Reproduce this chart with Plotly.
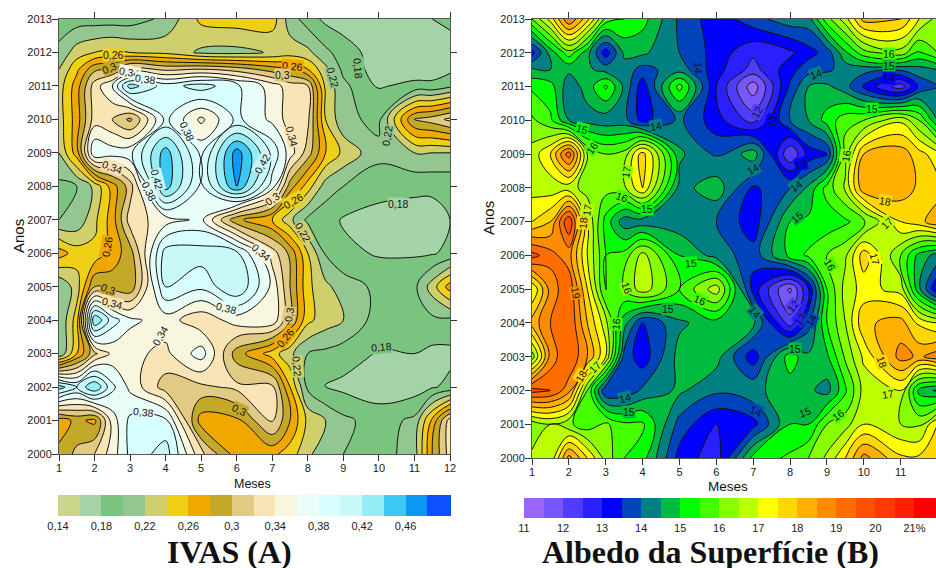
import plotly.graph_objects as go
import numpy as np

ivas_months = [1, 1.5, 2, 2.5, 3, 4, 5, 6, 7, 7.5, 8, 8.5, 9, 10, 11, 11.5, 12]
ivas_years = [2000, 2001, 2002, 2003, 2004, 2005, 2006, 2007, 2008, 2009, 2010, 2011, 2011.5, 2012, 2013]
albedo_months = [1, 1.5, 2, 2.5, 3, 3.5, 4, 5, 6, 7, 8, 8.5, 9, 9.5, 10, 11, 11.5, 12]
albedo_years = ivas_years
month_ticks = list(range(1, 13))
year_ticks = list(range(2000, 2014))

ivas_2000 = [.285, .305, .32, .35, .385, .41, .325, .27, .265, .25, .225, .205, .20, .19, .21, .28, .33]
ivas_2001 = [.27, .285, .275, .35, .385, .385, .27, .275, .325, .28, .235, .22, .205, .19, .205, .265, .33]
ivas_2002 = [.43, .40, .44, .385, .355, .31, .315, .325, .325, .26, .195, .178, .175, .17, .17, .178, .185]
ivas_2003 = [.20, .26, .315, .345, .345, .335, .37, .29, .25, .225, .20, .195, .19, .178, .18, .175, .175]
ivas_2004 = [.20, .25, .44, .39, .365, .35, .325, .35, .355, .30, .245, .23, .22, .19, .19, .195, .195]
ivas_2005 = [.20, .23, .30, .29, .285, .40, .385, .42, .355, .30, .245, .225, .21, .195, .195, .23, .27]
ivas_2006 = [.27, .25, .245, .27, .29, .41, .41, .405, .33, .295, .24, .198, .185, .178, .178, .178, .185]
ivas_2007 = [.20, .205, .235, .27, .33, .35, .365, .285, .26, .225, .195, .188, .178, .17, .17, .17, .18]
ivas_2008 = [.195, .20, .225, .27, .31, .45, .375, .46, .37, .29, .25, .21, .20, .19, .185, .185, .185]
ivas_2009 = [.22, .27, .38, .37, .375, .45, .375, .47, .395, .35, .31, .26, .235, .205, .22, .22, .22]
ivas_2010 = [.23, .27, .33, .32, .295, .385, .335, .385, .355, .33, .325, .24, .205, .195, .30, .31, .325]
ivas_2011 = [.23, .27, .33, .36, .43, .39, .41, .385, .35, .33, .32, .235, .205, .178, .185, .185, .195]
ivas_2011h = [.22, .255, .295, .30, .33, .315, .32, .31, .29, .28, .26, .225, .195, .17, .17, .17, .175]
ivas_2012 = [.205, .23, .24, .245, .24, .235, .216, .214, .222, .23, .225, .205, .19, .17, .17, .17, .17]
ivas_2013 = [.19, .19, .19, .19, .19, .205, .245, .25, .25, .21, .19, .175, .17, .17, .17, .18, .185]

albedo_2000 = [16.6, 16.6, 18.7, 17.5, 16.3, 15.5, 15.2, 13.3, 12.7, 15.2, 15.6, 16, 16.6, 17.5, 18.7, 17.6, 17.6, 17.8]
albedo_2001 = [16.2, 16.5, 16.1, 15.7, 16.1, 15.6, 15.6, 13.8, 13, 13.3, 15, 15, 16, 16.3, 17, 16.5, 16.4, 17.5]
albedo_2002 = [19.7, 19.5, 18.7, 16, 13.5, 13.6, 14.1, 14.6, 14.1, 14.4, 14.7, 14.6, 14.3, 15.4, 16.7, 17, 14.8, 14.4]
albedo_2003 = [16.2, 18.7, 19.5, 18.5, 17, 13.8, 13.2, 14.7, 14.7, 13.2, 15.3, 14.6, 14.9, 16.1, 17.1, 18.7, 18.4, 18.8]
albedo_2004 = [18.2, 19, 19.5, 18, 16.7, 14.7, 13.5, 14.4, 14.8, 14.6, 12.2, 13.8, 15.5, 16.5, 17.9, 18.2, 17.4, 17]
albedo_2005 = [17, 18.7, 19.4, 17.5, 15.4, 16, 16.8, 15.5, 16.8, 13.3, 11.4, 13, 15.5, 16.7, 17.2, 16.8, 14.6, 13]
albedo_2006 = [19.7, 19.2, 18.7, 17, 15.5, 15.7, 16.7, 15, 14.3, 13.7, 15.2, 15.6, 16, 16.4, 17.8, 16, 14.8, 14.3]
albedo_2007 = [17.5, 18, 20, 17, 15.3, 14.2, 14.2, 14.2, 14, 13.2, 15, 15.1, 15.2, 15.4, 15.8, 17.5, 17.8, 18.4]
albedo_2008 = [16.8, 16.7, 16.7, 16.3, 16.2, 16.4, 17.5, 14.3, 14.8, 13.4, 14, 14.6, 15.7, 16.6, 18.4, 18.3, 17.9, 17.7]
albedo_2009 = [16.7, 17.5, 19.3, 16.5, 16, 16.2, 17.8, 14.6, 13.9, 14.8, 12, 13.2, 13.5, 16.3, 18, 18.3, 17.7, 17.2]
albedo_2010 = [16.1, 15.6, 14.5, 14.3, 14.2, 14.2, 13.3, 14.1, 13.2, 12.3, 14, 14.5, 15.2, 15.8, 16, 16.9, 16, 14.5]
albedo_2011 = [15.4, 15.2, 14.2, 14.7, 15.6, 14.4, 13.2, 15.7, 13, 11.2, 13.6, 14.5, 14.6, 14.2, 13.4, 12.2, 13.6, 14]
albedo_2011h = [14.6, 14.5, 14.6, 14.6, 14.3, 14.3, 13.8, 14.3, 13.2, 12.3, 13.3, 13.8, 13.9, 14.2, 14.2, 14.1, 14.3, 14.5]
albedo_2012 = [13.3, 14.7, 15.8, 14.7, 13.2, 14.6, 14.6, 14, 13.3, 12.6, 12.9, 13.3, 13.7, 14.9, 15.8, 16.3, 15.4, 16]
albedo_2013 = [16, 17.2, 19, 17.7, 15.8, 15.5, 15.2, 13.9, 13.2, 13.8, 14.3, 14.3, 15.8, 16.8, 18.2, 18, 17, 16.3]

ivas_z = [ivas_2000, ivas_2001, ivas_2002, ivas_2003, ivas_2004, ivas_2005, ivas_2006, ivas_2007,
          ivas_2008, ivas_2009, ivas_2010, ivas_2011, ivas_2011h, ivas_2012, ivas_2013]
albedo_z = [albedo_2000, albedo_2001, albedo_2002, albedo_2003, albedo_2004, albedo_2005, albedo_2006, albedo_2007,
            albedo_2008, albedo_2009, albedo_2010, albedo_2011, albedo_2011h, albedo_2012, albedo_2013]

ivas_colors = ["#c9d68a", "#a3d3a6", "#7bc47f", "#93c690", "#cfd06c", "#efd014", "#f0a800", "#c4a828",
               "#e0ca84", "#f8e4b4", "#f9f6e0", "#e8fdf8", "#d8ffff", "#c8f8f8", "#94ecf4", "#3cc8f0",
               "#0c98f4", "#0c50ff"]
albedo_colors = ["#9966ff", "#7755ff", "#4f3cff", "#2a1fff", "#0000ff", "#0044bb", "#008080", "#00bb40",
                 "#00ff00", "#44ff00", "#88ff00", "#bbff00", "#ffff00", "#ffd700", "#ffb000", "#ff8c00",
                 "#ff6c00", "#ff5000", "#ff3800", "#ff2000", "#ff0000"]
ivas_ticks = [.14, .18, .22, .26, .30, .34, .38, .42, .46]
ivas_ticktext = ["0,14", "0,18", "0,22", "0,26", "0,3", "0,34", "0,38", "0,42", "0,46"]
albedo_ticks = [11, 12, 13, 14, 15, 16, 17, 18, 19, 20, 21]
albedo_ticktext = ["11", "12", "13", "14", "15", "16", "17", "18", "19", "20", "21%"]

# contour labels as printed in the picture: text, page x, page y, rotation
ivas_labels = [
    ("0,26", 113, 55, 0), ("0,3", 109, 68, -25), ("0,34", 129, 72, 10), ("0,38", 145, 79, 8),
    ("0,26", 292, 66, 5), ("0,3", 282, 75, 0), ("0,22", 333, 77, 75), ("0,18", 358, 68, 85),
    ("0,38", 187, 131, 65), ("0,34", 292, 136, 75), ("0,42", 262, 164, -60), ("0,42", 157, 179, 75),
    ("0,38", 149, 191, 65), ("0,34", 112, 167, 20), ("0,22", 387, 136, -80), ("0,18", 398, 204, 0),
    ("0,3", 272, 199, -35), ("0,26", 293, 201, -30), ("0,22", 303, 232, 60), ("0,26", 107, 247, -80),
    ("0,34", 261, 252, 40), ("0,3", 108, 289, 20), ("0,34", 112, 303, 15), ("0,38", 226, 308, 15),
    ("0,3", 289, 315, -80), ("0,26", 285, 338, -50), ("0,34", 160, 336, -60), ("0,22", 297, 366, 85),
    ("0,18", 381, 347, -5), ("0,38", 143, 412, 5), ("0,3", 240, 410, 25),
]
albedo_labels = [
    ("14", 698, 68, 90), ("14", 816, 74, -20), ("16", 889, 54, 0), ("15", 889, 66, 0), ("14", 889, 78, 0),
    ("15", 872, 109, 0), ("15", 582, 129, 15), ("14", 656, 126, -10), ("12", 757, 112, -60),
    ("13", 772, 121, -70), ("16", 592, 148, -55), ("17", 626, 172, -80), ("16", 846, 156, -80),
    ("13", 801, 164, -15), ("14", 753, 169, -30), ("14", 796, 186, -35), ("16", 622, 197, 20),
    ("15", 647, 209, 0), ("18", 885, 201, 10), ("15", 797, 217, -40), ("17", 887, 223, -45),
    ("18", 583, 223, -85), ("17", 587, 210, -80), ("15", 691, 263, -5), ("16", 830, 265, 60),
    ("17", 875, 259, 75), ("16", 627, 288, 70), ("16", 700, 300, 25), ("19", 576, 293, 80),
    ("12", 793, 306, -50), ("15", 668, 309, 0), ("14", 755, 312, 50), ("13", 800, 319, -50),
    ("14", 811, 320, -60), ("16", 616, 324, -85), ("15", 795, 349, 0), ("18", 882, 362, 70),
    ("17", 595, 367, -45), ("18", 581, 376, -60), ("17", 888, 394, -10), ("14", 625, 398, -15),
    ("15", 629, 412, 0), ("14", 756, 411, 25), ("15", 805, 412, -20), ("16", 838, 415, -35),
]

W, H = 936, 568
SANS = "Liberation Sans, Arial, sans-serif"
SERIF = "Liberation Serif, Times New Roman, serif"
A_BOX = (59, 450, 19, 454)
B_BOX = (532, 937.5, 19, 458)


def steps(colors):
    n = len(colors)
    out = []
    for i, c in enumerate(colors):
        out += [[i / n, c], [(i + 1) / n, c]]
    return out


def panel(fig, xs, ys, z, colors, lo, step, ticks, ticktext, bar_px, bar_y, bar_h, main, over):
    n = len(colors)
    hi = lo + n * step
    mx, my = main
    ox, oy = over
    fig.add_trace(go.Contour(
        x=xs, y=ys, z=z, xaxis=mx, yaxis=my, zmin=lo, zmax=hi, autocontour=False,
        colorscale=steps(colors), line=dict(width=0, smoothing=1.1),
        contours=dict(coloring="fill", start=lo, end=hi, size=step, showlines=False),
        colorbar=dict(orientation="h", lenmode="pixels", len=bar_px[1] - bar_px[0], thickness=bar_h,
                      thicknessmode="pixels", x=bar_px[0] / W, xanchor="left", y=1 - bar_y / H, yanchor="top",
                      xpad=0, ypad=0, outlinewidth=0, tickvals=ticks, ticktext=ticktext, ticks="",
                      tickfont=dict(family=SANS, size=11, color="#222")),
        hoverinfo="skip"))
    fig.add_trace(go.Contour(
        x=xs, y=ys, z=z, xaxis=ox, yaxis=oy, zmin=lo, zmax=hi, autocontour=False, showscale=False,
        colorscale=steps(colors), line=dict(width=1, color="#111", smoothing=1.1),
        contours=dict(coloring="none", start=lo, end=hi, size=step),
        hoverinfo="skip"))


fig = go.Figure()
panel(fig, ivas_months, ivas_years, ivas_z, ivas_colors, .14, .02, ivas_ticks, ivas_ticktext,
      (58, 449), 495, 21, ("x", "y"), ("x3", "y3"))
panel(fig, albedo_months, albedo_years, albedo_z, albedo_colors, 11, .5, albedo_ticks, albedo_ticktext,
      (524, 934), 498, 20, ("x2", "y2"), ("x4", "y4"))

tick = dict(family=SANS, size=11, color="#222")
axis = dict(showgrid=False, zeroline=False, showline=True, linecolor="#555", linewidth=1, ticks="outside",
            ticklen=6, tickcolor="#333", tickfont=tick, ticklabelstandoff=-2)
xr_a = [1, 12]
xr_b = [1, 1 + (W - 532) / 36.87]
top_a = [(H - A_BOX[3]) / H, (H - A_BOX[2]) / H]
top_b = [(H - B_BOX[3]) / H, (H - B_BOX[2]) / H]
top_ticks = [2, 4, 6, 8, 10, 12]
right_ticks = [2002, 2004, 2006, 2008, 2010, 2012]

fig.update_layout(
    width=W, height=H, autosize=False, margin=dict(l=0, r=0, t=0, b=0, autoexpand=False), paper_bgcolor="white",
    plot_bgcolor="white", showlegend=False,
    xaxis=dict(axis, domain=[A_BOX[0] / W, A_BOX[1] / W], range=xr_a, tickvals=month_ticks, anchor="y"),
    yaxis=dict(axis, domain=top_a, range=[2000, 2013], tickvals=year_ticks, anchor="x"),
    xaxis2=dict(axis, domain=[B_BOX[0] / W, 1], range=xr_b, tickvals=month_ticks, anchor="y2"),
    yaxis2=dict(axis, domain=top_b, range=[2000, 2013], tickvals=year_ticks, anchor="x2"),
    xaxis3=dict(axis, overlaying="x", side="top", range=xr_a, tickvals=top_ticks, showticklabels=False, anchor="y3"),
    yaxis3=dict(axis, overlaying="y", side="right", range=[2000, 2013], tickvals=right_ticks,
                showticklabels=False, anchor="x3"),
    xaxis4=dict(axis, overlaying="x2", side="top", range=xr_b, tickvals=top_ticks, showticklabels=False, anchor="y4"),
    yaxis4=dict(axis, overlaying="y2", side="right", range=[2000, 2013], tickvals=right_ticks,
                showticklabels=False, anchor="x4"),
)


def band_colour(xs, ys, z, colors, lo, step, box, px, py):
    """Fill colour of the band under a page position, so a label can break the line behind it."""
    z = np.asarray(z, float)
    m = 1 + (px - box[0]) / (box[1] - box[0]) * 11
    y = 2000 + 13 * (box[3] - py) / (box[3] - box[2])
    col = [np.interp(m, xs, row) for row in z]
    v = np.interp(y, ys, col)
    return colors[int(np.clip((v - lo) // step, 0, len(colors) - 1))]


def add_labels(labels, xs, ys, z, colors, lo, step, box):
    for text, px, py, angle in labels:
        fig.add_annotation(text=text, x=px / W, y=1 - py / H, xref="paper", yref="paper", showarrow=False,
                           textangle=angle, xanchor="center", yanchor="middle", borderpad=0,
                           bgcolor=band_colour(xs, ys, z, colors, lo, step, box, px, py),
                           font=dict(family=SANS, size=10.5, color="#111"))


add_labels(ivas_labels, ivas_months, ivas_years, ivas_z, ivas_colors, .14, .02, A_BOX)
add_labels(albedo_labels, albedo_months, albedo_years, albedo_z, albedo_colors, 11, .5, B_BOX)


def note(text, x, y, size, family=SANS, angle=0, bold=False, height=None):
    fig.add_annotation(text=f"<b>{text}</b>" if bold else text, x=x / W, y=1 - y / H, xref="paper", yref="paper",
                       showarrow=False, textangle=angle, xanchor="center", yanchor="middle", height=height,
                       borderpad=0, borderwidth=0, font=dict(family=family, size=size, color="#111"))


note("Meses", 252, 484, 12.5)
note("Meses", 728, 486, 13.5)
note("Anos", 18, 236, 15, angle=-90)
note("Anos", 488, 218, 15, angle=-90)
note("IVAS (A)", 229, 551, 32, SERIF, bold=True, height=33)
note("Albedo da Superfície (B)", 710, 551, 32, SERIF, bold=True, height=33)

fig.write_html("out.html", config=dict(displayModeBar=False), post_script="document.body.style.margin='0';")
